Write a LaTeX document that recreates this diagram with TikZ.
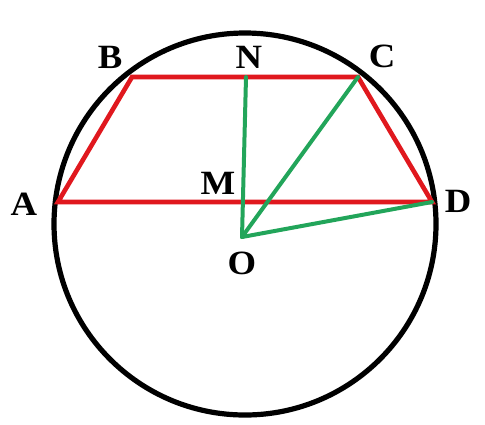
\documentclass[tikz,border=0pt]{standalone}
\usepackage{fontspec}
\setmainfont{Liberation Serif}
\usepackage{xcolor}
\definecolor{TrapRed}{HTML}{E0181E}
\definecolor{SegGreen}{HTML}{22A55A}
\tikzset{
    circ/.style={draw=black, line width=2.6pt},
    trap/.style={draw=TrapRed, line width=2.3pt, line join=miter},
    seg/.style={draw=SegGreen, line width=2pt, line cap=round},
    lbl/.style={font=\fontsize{17}{20}\selectfont\bfseries, inner sep=0pt, xscale=1.08},
}
\begin{document}
\begin{tikzpicture}[x=0.5pt, y=-0.5pt]
\useasboundingbox (0,0) rectangle (485,424);

% Points
\coordinate (O) at (242,237);
\coordinate (A) at (58,202);
\coordinate (B) at (132,77);
\coordinate (C) at (358,77);
\coordinate (D) at (432,202);
\coordinate (N) at (246,77);

% Circle
\draw[circ] (245,224) circle[radius=191];

% Trapezoid
\draw[trap] (A) -- (B) -- (C) -- (D) -- cycle;

% Segments
\draw[seg] (N) -- (O);
\draw[seg] (O) -- (C);
\draw[seg] (O) -- (D);

% Labels
\node[lbl] (lA) at (24,204) {A};
\node[lbl] (lB) at (110,57) {B};
\node[lbl] (lN) at (249,57) {N};
\node[lbl] (lC) at (382,56) {C};
\node[lbl] (lM) at (218,183) {M};
\node[lbl] (lD) at (458,201) {D};
\node[lbl] (lO) at (242,263) {O};

\end{tikzpicture}
\end{document}
